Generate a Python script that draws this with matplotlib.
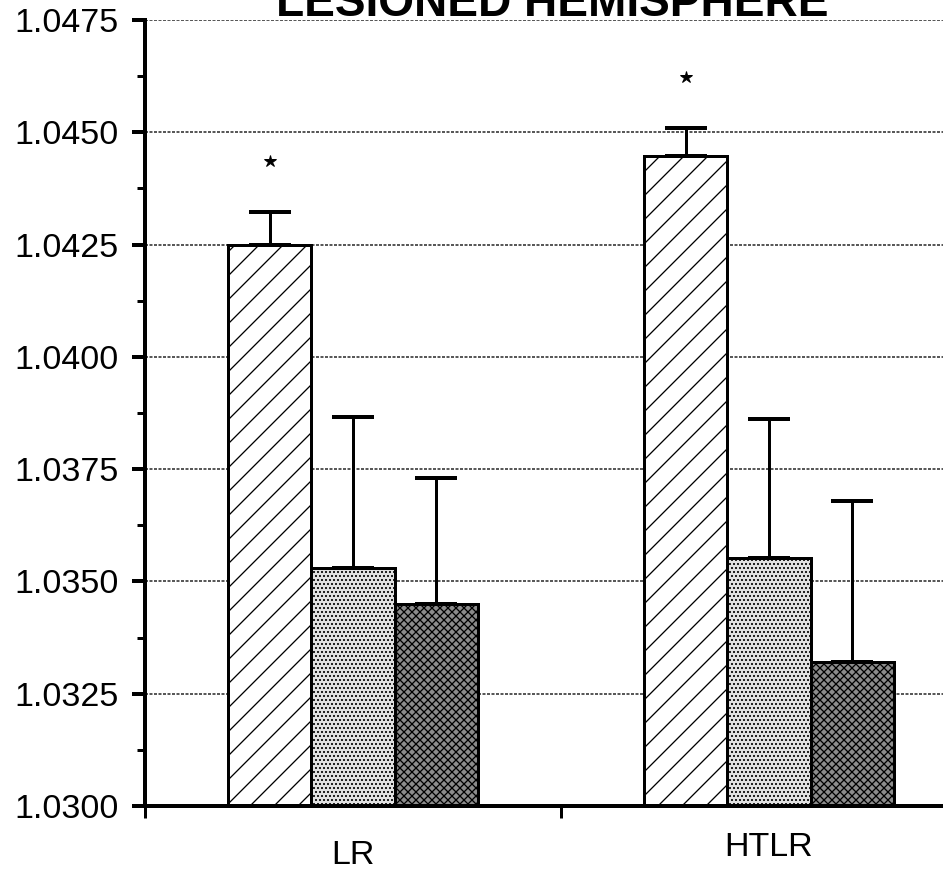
import matplotlib
matplotlib.use('Agg')
import matplotlib.pyplot as plt
import numpy as np

plt.rcParams['font.family'] = ['Liberation Sans', 'DejaVu Sans']
plt.rcParams['hatch.linewidth'] = 1.3

# data
groups = ['LR', 'HTLR']
vals_a = [1.0425, 1.04447]    # diagonal hatch
vals_b = [1.0353, 1.03552]    # light stipple
vals_c = [1.0345, 1.03321]    # dark crosshatch
err_a = [0.00072, 0.00062]
err_b = [0.00336, 0.00310]
err_c = [0.00280, 0.00358]
signif_a = [True, True]
ytick_vals = [1.0300, 1.0325, 1.0350, 1.0375, 1.0400, 1.0425, 1.0450, 1.0475]
ytick_labels = ['1.0300', '1.0325', '1.0350', '1.0375', '1.0400', '1.0425', '1.0450', '1.0475']
ybase = 1.0300

DPI = 72
fig = plt.figure(figsize=(943 / DPI, 875 / DPI), dpi=DPI)
ax = fig.add_axes([145 / 943, 69 / 875, 832 / 943, 786 / 875])

x = np.arange(len(groups))
w = 0.2
series = [
    (vals_a, err_a, '/', 'white'),
    (vals_b, err_b, '...', '#e2e2e2'),
    (vals_c, err_c, 'xxx', '#8c8c8c'),
]
for i, (v, e, hatch, fc) in enumerate(series):
    xs = x + (i - 1) * w
    h = np.array(v) - ybase
    ax.bar(xs, h, width=w, bottom=ybase, color=fc, edgecolor='black',
           hatch=hatch, linewidth=3, zorder=2)
    ax.errorbar(xs, v, yerr=[np.zeros(len(e)), e], fmt='none', ecolor='black',
                elinewidth=3, capsize=21, capthick=4, zorder=3)

# significance stars above the first series
for xi, v, e, s in zip(x - w, vals_a, err_a, signif_a):
    if s:
        ax.plot(xi, v + e + 0.00113, marker='*', color='black', markersize=13, zorder=4)

ax.set_xlim(-0.5, 1.5)
ax.set_ylim(ybase, 1.0475)

ax.set_yticks(ytick_vals)
ax.set_yticklabels(ytick_labels, fontsize=34)
ax.set_yticks(np.arange(1.03125, 1.0475, 0.0025), minor=True)
ax.tick_params(axis='y', which='major', direction='out', length=13, width=4, pad=13)
ax.tick_params(axis='y', which='minor', direction='out', length=8, width=3)

ax.set_xticks([-0.5, 0.5, 1.5])
ax.set_xticklabels([])
ax.tick_params(axis='x', which='major', direction='out', length=12, width=3)

# group labels (slightly different drops, as printed)
label_drop = [34, 26]
for xi, g, d in zip(x, groups, label_drop):
    ax.annotate(g, xy=(xi, 0), xycoords=('data', 'axes fraction'),
                xytext=(0, -d), textcoords='offset points',
                ha='center', va='top', fontsize=34)

ax.grid(axis='y', which='major', color='#222222', linewidth=1.5,
        linestyle=(0, (2, 1)), zorder=1)
ax.set_axisbelow(True)

for side in ['top', 'right']:
    ax.spines[side].set_visible(False)
ax.spines['left'].set_linewidth(4)
ax.spines['bottom'].set_linewidth(4)

# title is cropped at the top edge in the original scan
fig.text(552 / 943, 1 - 16 / 875, 'LESIONED HEMISPHERE', ha='center',
         va='baseline', fontsize=46, fontweight='bold')

fig.savefig('out.png', dpi=DPI)
